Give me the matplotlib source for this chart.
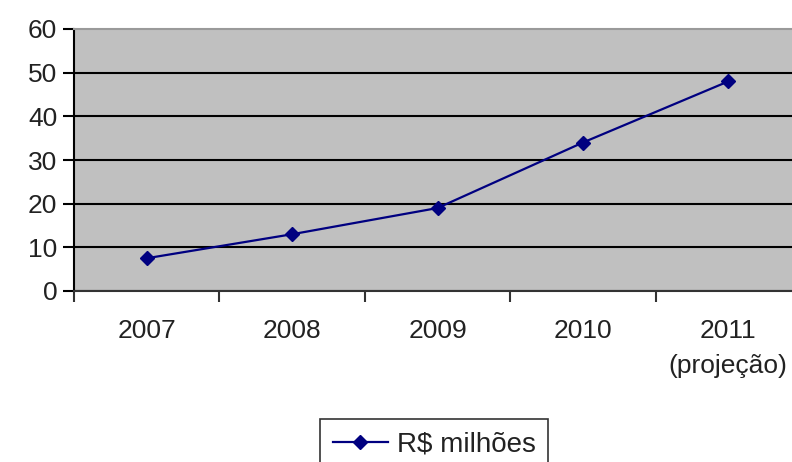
import matplotlib.pyplot as plt
import numpy as np

# dados do gráfico
anos = ['2007', '2008', '2009', '2010', '2011\n(projeção)']
valores = [7.5, 13, 19, 34, 48]
serie = 'R$ milhões'

plt.rcParams['font.family'] = ['Liberation Sans', 'DejaVu Sans']

fig = plt.figure(figsize=(7.92, 4.62), dpi=100)
ax = fig.add_axes([74 / 792, 1 - 291 / 462, (801 - 74) / 792, (291 - 29) / 462])
ax.set_facecolor('#c0c0c0')

x = np.arange(len(anos))
ax.plot(x, valores, color='#000080', marker='D', markersize=7, linewidth=1.6, label=serie, zorder=3)

ax.set_xlim(-0.5, len(anos) - 0.5)
ax.set_ylim(0, 60)
ax.set_yticks(range(0, 61, 10))
ax.yaxis.grid(True, color='black', linewidth=1.5)
ax.get_ygridlines()[-1].set_visible(False)
ax.set_axisbelow(True)

# ticks nas divisões, rótulos no centro
ax.set_xticks(np.arange(-0.5, len(anos), 1))
ax.set_xticklabels([])
ax.set_xticks(x, minor=True)
ax.set_xticklabels(anos, minor=True, linespacing=1.6)
ax.tick_params(axis='x', which='minor', length=0, pad=20, labelsize=19, labelcolor='#222222')
ax.tick_params(axis='x', which='major', length=8, width=1.5, color='#333333')
ax.tick_params(axis='y', length=8, width=1.5, labelsize=19, labelcolor='#222222', pad=4)

ax.spines['right'].set_visible(False)
ax.spines['top'].set_color('#9a9a9a')
ax.spines['top'].set_linewidth(1.5)
ax.spines['left'].set_linewidth(1.5)
ax.spines['left'].set_color('black')
ax.spines['bottom'].set_linewidth(1.5)
ax.spines['bottom'].set_color('#333333')

leg = fig.legend(loc='upper center', bbox_to_anchor=(434 / 792, 1 - 419 / 462),
                 prop={'size': 20}, frameon=True, fancybox=False, edgecolor='black',
                 handlelength=2.0, borderpad=0.45, handletextpad=0.3, borderaxespad=0)
leg.get_frame().set_linewidth(1.2)
for t in leg.get_texts():
    t.set_color('#222222')

fig.savefig('out.png', dpi=100)
